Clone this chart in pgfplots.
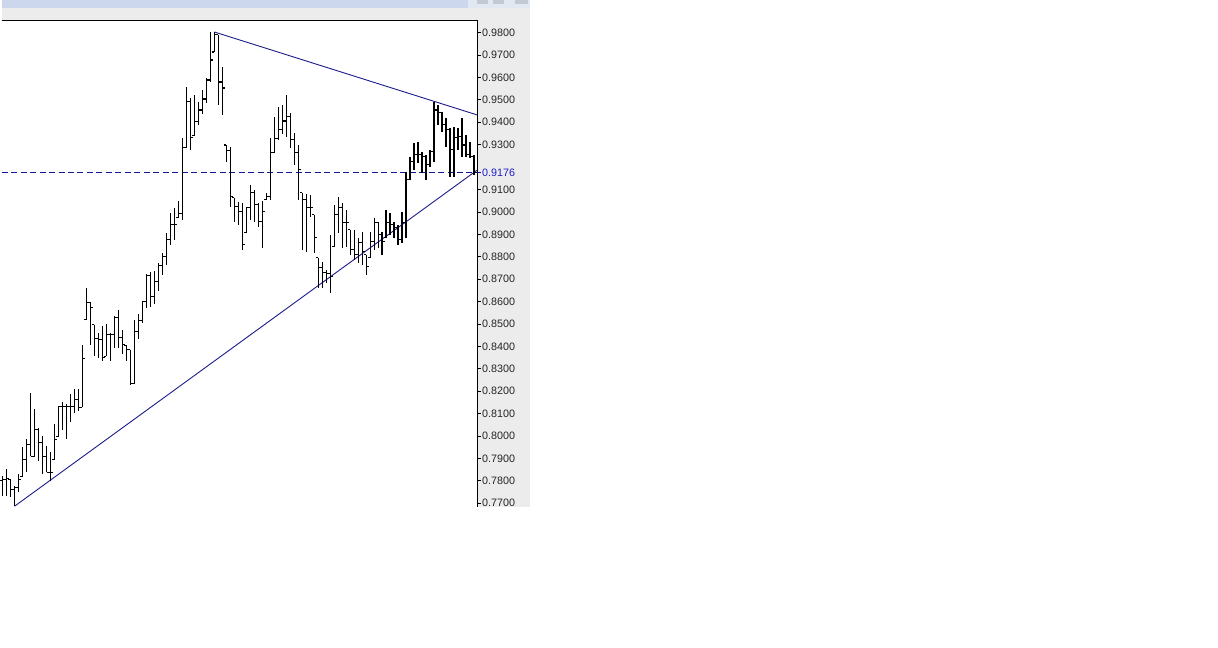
\documentclass[border=0pt]{standalone}
\usepackage{pgfplots}
\pgfplotsset{compat=1.18}
\usepackage{pgfplotstable}
\usepackage{fontspec}
\setmainfont{Liberation Sans}

\definecolor{trend}{RGB}{28,28,140}
\definecolor{lvl}{RGB}{20,20,150}
\definecolor{lbl}{RGB}{30,30,200}
\definecolor{panel}{RGB}{236,236,236}
\definecolor{titlebar}{RGB}{204,214,236}
\definecolor{titleend}{RGB}{226,232,242}
\definecolor{btn}{RGB}{196,200,210}

% close tick to the right, open tick to the left
\pgfdeclareplotmark{cls}{\pgfpathmoveto{\pgfqpoint{0pt}{0pt}}\pgfpathlineto{\pgfqpoint{2.6pt}{0pt}}\pgfusepathqstroke}
\pgfdeclareplotmark{opn}{\pgfpathmoveto{\pgfqpoint{0pt}{0pt}}\pgfpathlineto{\pgfqpoint{-2.6pt}{0pt}}\pgfusepathqstroke}

\pgfplotstableread{
i o h l c
0 0.7800 0.7820 0.7731 0.7807
1 0.7807 0.7851 0.7731 0.7811
2 0.7807 0.7807 0.7727 0.7762
3 0.7762 0.7776 0.7687 0.7771
4 0.7771 0.7829 0.7749 0.7807
5 0.7820 0.7949 0.7820 0.7896
6 0.7896 0.7989 0.7838 0.7963
7 0.7963 0.8190 0.7909 0.7909
8 0.7909 0.8119 0.7909 0.8029
9 0.8029 0.8038 0.7887 0.7972
10 0.7972 0.7998 0.7829 0.7909
11 0.7909 0.7954 0.7838 0.7838
12 0.7838 0.7927 0.7798 0.7838
13 0.7896 0.8052 0.7896 0.7985
14 0.7998 0.8132 0.7998 0.8132
15 0.8132 0.8154 0.8029 0.8132
16 0.8132 0.8141 0.7985 0.8132
17 0.8132 0.8186 0.8061 0.8132
18 0.8132 0.8208 0.8105 0.8163
19 0.8163 0.8208 0.8110 0.8128
20 0.8128 0.8408 0.8128 0.8346
21 0.8520 0.8662 0.8520 0.8596
22 0.8596 0.8600 0.8408 0.8573
23 0.8497 0.8497 0.8355 0.8435
24 0.8435 0.8462 0.8350 0.8431
25 0.8431 0.8493 0.8333 0.8350
26 0.8355 0.8502 0.8355 0.8453
27 0.8453 0.8462 0.8333 0.8453
28 0.8453 0.8537 0.8395 0.8528
29 0.8528 0.8564 0.8395 0.8439
30 0.8439 0.8475 0.8364 0.8408
31 0.8404 0.8404 0.8337 0.8386
32 0.8386 0.8386 0.8230 0.8234
33 0.8234 0.8520 0.8230 0.8466
34 0.8466 0.8546 0.8431 0.8515
35 0.8515 0.8604 0.8506 0.8600
36 0.8600 0.8725 0.8573 0.8716
37 0.8716 0.8734 0.8578 0.8622
38 0.8622 0.8738 0.8587 0.8689
39 0.8689 0.8774 0.8649 0.8761
40 0.8761 0.8818 0.8720 0.8801
41 0.8801 0.8907 0.8761 0.8876
42 0.8876 0.8996 0.8854 0.8943
43 0.8943 0.9019 0.8876 0.8943
44 0.8974 0.9050 0.8974 0.8992
45 0.8992 0.9331 0.8965 0.9286
46 0.9286 0.9558 0.9286 0.9491
47 0.9491 0.9509 0.9277 0.9331
48 0.9340 0.9522 0.9340 0.9402
49 0.9402 0.9491 0.9389 0.9455
50 0.9455 0.9545 0.9438 0.9504
51 0.9504 0.9598 0.9487 0.9589
52 0.9589 0.9803 0.9580 0.9678
53 0.9714 0.9803 0.9714 0.9790
54 0.9790 0.9790 0.9478 0.9580
55 0.9580 0.9647 0.9433 0.9553
56 0.9299 0.9299 0.9224 0.9273
57 0.9273 0.9291 0.9023 0.9068
58 0.9063 0.9063 0.8956 0.9023
59 0.9023 0.9045 0.8943 0.9001
60 0.9001 0.9041 0.8832 0.8854
61 0.8907 0.9023 0.8907 0.9019
62 0.9019 0.9121 0.8965 0.9086
63 0.9086 0.9099 0.8956 0.9032
64 0.9032 0.9041 0.8934 0.8956
65 0.8956 0.9050 0.8841 0.9001
66 0.9054 0.9086 0.9054 0.9068
67 0.9068 0.9331 0.9054 0.9264
68 0.9264 0.9424 0.9264 0.9326
69 0.9326 0.9469 0.9322 0.9366
70 0.9366 0.9478 0.9348 0.9406
71 0.9406 0.9522 0.9335 0.9424
72 0.9424 0.9442 0.9286 0.9322
73 0.9322 0.9353 0.9210 0.9264
74 0.9264 0.9299 0.9054 0.9188
75 0.9086 0.9086 0.8832 0.9054
76 0.9054 0.9081 0.8823 0.9019
77 0.9019 0.9077 0.8979 0.9019
78 0.8988 0.8988 0.8818 0.8885
79 0.8796 0.8796 0.8662 0.8752
80 0.8752 0.8778 0.8662 0.8729
81 0.8729 0.8743 0.8685 0.8725
82 0.8725 0.8898 0.8640 0.8711
83 0.8845 0.9032 0.8845 0.8988
84 0.8988 0.9068 0.8907 0.9019
85 0.9019 0.9041 0.8841 0.8952
86 0.8952 0.9010 0.8845 0.8952
87 0.8921 0.8921 0.8810 0.8832
88 0.8832 0.8921 0.8787 0.8810
89 0.8810 0.8885 0.8774 0.8863
90 0.8863 0.8912 0.8765 0.8823
91 0.8810 0.8810 0.8720 0.8756
92 0.8796 0.8912 0.8796 0.8867
93 0.8867 0.8974 0.8832 0.8952
94 0.8952 0.8956 0.8841 0.8898
95 0.8898 0.8912 0.8810 0.8867
96 0.8885 0.9010 0.8885 0.8952
97 0.8952 0.8996 0.8898 0.8943
98 0.8943 0.8956 0.8885 0.8930
99 0.8930 0.8943 0.8854 0.8876
100 0.8876 0.9001 0.8863 0.8952
101 0.8952 0.9179 0.8885 0.9144
102 0.9144 0.9246 0.9144 0.9224
103 0.9224 0.9308 0.9188 0.9255
104 0.9255 0.9313 0.9219 0.9255
105 0.9255 0.9268 0.9175 0.9246
106 0.9246 0.9255 0.9144 0.9210
107 0.9210 0.9277 0.9201 0.9268
108 0.9268 0.9491 0.9224 0.9455
109 0.9455 0.9478 0.9389 0.9442
110 0.9442 0.9447 0.9357 0.9389
111 0.9389 0.9420 0.9291 0.9366
112 0.9366 0.9375 0.9157 0.9277
113 0.9277 0.9380 0.9157 0.9331
114 0.9331 0.9375 0.9277 0.9335
115 0.9335 0.9420 0.9246 0.9299
116 0.9299 0.9344 0.9246 0.9255
117 0.9255 0.9313 0.9242 0.9246
118 0.9246 0.9255 0.9166 0.9176
}\ohlc

\begin{document}
\begin{tikzpicture}[x=1bp,y=1bp]
\fill[white] (0bp,0bp) rectangle (1218bp,648bp);
% window chrome
\fill[titlebar] (0bp,640bp) rectangle (467bp,648bp);
\fill[titleend] (467bp,640bp) rectangle (529bp,648bp);
\fill[btn] (476bp,644bp) rectangle (487bp,648bp);
\fill[btn] (492bp,644bp) rectangle (503bp,648bp);
\fill[btn] (514bp,644bp) rectangle (527bp,648bp);
\fill[panel] (0bp,628bp) rectangle (529bp,640bp);
\fill[panel] (476bp,140bp) rectangle (529bp,628bp);
\begin{axis}[
  at={(0bp,628bp)}, anchor=north west,
  scale only axis, width=476bp, height=488bp,
  xmin=-0.25, xmax=118.75, ymin=0.76819, ymax=0.98565,
  axis x line=top, axis y line=right,
  axis line style={-, black, line width=0.9bp},
  xtick=\empty,
  ytick={0.77,0.78,0.79,0.80,0.81,0.82,0.83,0.84,0.85,0.86,0.87,0.88,0.89,0.90,0.91,0.93,0.94,0.95,0.96,0.97,0.98},
  extra y ticks={0.9176},
  extra y tick style={yticklabel style={text=lbl}, major tick style={lvl}},
  tick align=outside, major tick length=4bp,
  tick style={black, line width=0.8bp},
  yticklabel style={font=\fontsize{10.8}{12}\selectfont, inner sep=1bp, text=black!85},
  /pgf/number format/fixed, /pgf/number format/fixed zerofill,
  /pgf/number format/precision=4, /pgf/number format/assume math mode=true,
]
% support and resistance lines
\addplot[trend, line width=0.9bp] coordinates {(3,0.7687) (118.75,0.9186)};
\addplot[trend, line width=0.9bp] coordinates {(53,0.9803) (118.75,0.9433)};
\addplot[lvl, line width=1bp, dash pattern=on 6bp off 3.5bp] coordinates {(-0.25,0.9176) (118.75,0.9176)};
% high-low bars with open and close ticks
\addplot[only marks, mark=cls, mark options={black, line width=1.2bp},
  error bars/.cd, y dir=both, y explicit, error mark=none,
  error bar style={black, line width=1.2bp}]
  table[x=i, y=c, y error plus expr=\thisrow{h}-\thisrow{c}, y error minus expr=\thisrow{c}-\thisrow{l}] {\ohlc};
\addplot[only marks, mark=opn, mark options={black, line width=1.2bp}] table[x=i, y=o] {\ohlc};
\end{axis}
\fill[white] (0bp,0bp) rectangle (1218bp,140bp);
\end{tikzpicture}
\end{document}
